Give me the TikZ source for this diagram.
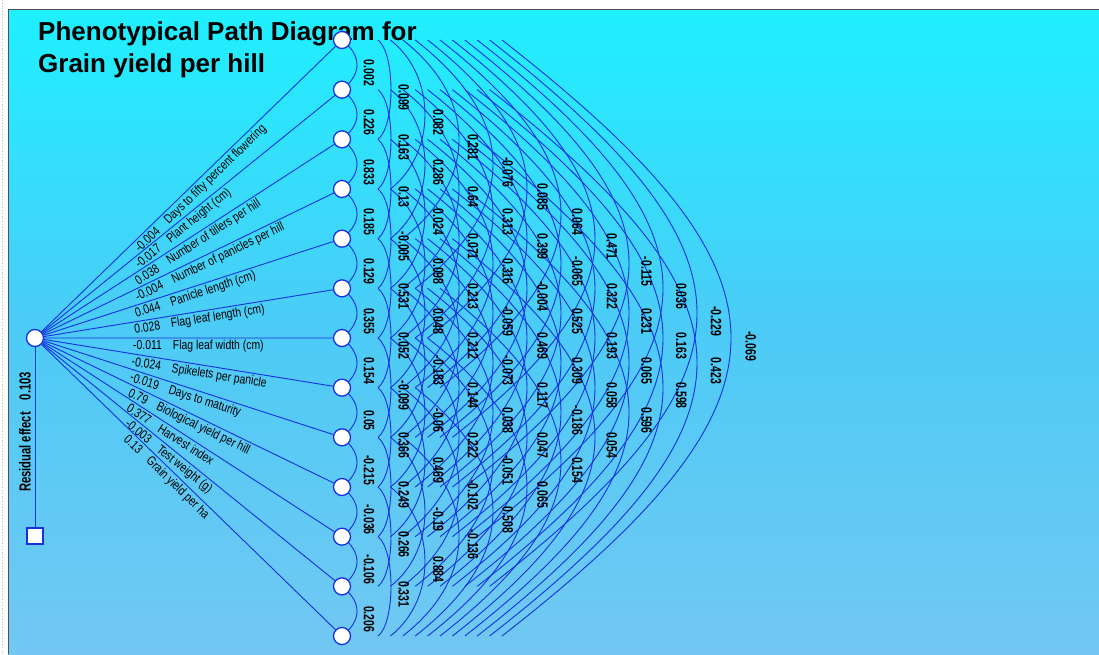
\documentclass[tikz,border=0pt]{standalone}
\usepackage{fontspec}
\setmainfont{Liberation Sans}
\newfontfamily\narrowsans[FakeStretch=0.8]{Liberation Sans}
\newfontfamily\coefsans[FakeStretch=0.7]{Liberation Sans}
\usetikzlibrary{backgrounds,positioning}
\definecolor{skytop}{HTML}{1EF0FF}
\definecolor{skymid}{HTML}{4CCBF6}
\definecolor{skybot}{HTML}{72C8F2}
\definecolor{pathblue}{HTML}{1530E0}
\definecolor{framegray}{HTML}{505050}

\begin{document}
\begin{tikzpicture}[x=1pt,y=1pt,
  trait/.style={circle,draw=pathblue,line width=1.3pt,fill=white,minimum size=17pt,inner sep=0pt},
  resid/.style={rectangle,draw=pathblue,line width=1.3pt,fill=white,minimum size=16pt,inner sep=0pt},
  link/.style={draw=pathblue,line width=0.9pt},
  coef/.style={font=\coefsans\fontsize{15}{17}\selectfont\bfseries,rotate=-90,inner sep=0pt},
  effect/.style={font=\narrowsans\fontsize{13}{15}\selectfont,sloped,anchor=north west,pos=0.3,inner sep=2pt},
  heading/.style={font=\fontsize{26}{31}\selectfont\bfseries,anchor=base west,inner sep=0pt}
]
\useasboundingbox (0,0) rectangle (1099,-654);
\begin{pgfonlayer}{background}
\fill[top color=skytop,bottom color=skybot,middle color=skymid] (8,-9) rectangle (1099,-654);
\draw[framegray,line width=1pt] (8,-654) -- (8,-9) -- (1099,-9);
\draw[gray!50,dotted,line width=0.8pt] (2.5,0) -- (2.5,-654);
\end{pgfonlayer}

\node[heading] (title1) at (38,-40) {Phenotypical Path Diagram for};
\node[heading] (title2) at ([yshift=-32pt]title1.base west) {Grain yield per hill};

\node[trait] (root) at (35,-338) {};
\node[resid] (res) at (35,-536) {};
\foreach \i in {1,...,13}
  \node[trait] (c\i) at (342,{-40-49.667*(\i-1)}) {};

\begin{pgfonlayer}{background}
\draw[link] (root) -- (res);
\foreach \i/\e/\t in {1/-0.004/{Days to fifty percent flowering},2/-0.017/{Plant height (cm)},
    3/0.038/{Number of tillers per hill},4/-0.004/{Number of panicles per hill},
    5/0.044/{Panicle length (cm)},6/0.028/{Flag leaf length (cm)},7/-0.011/{Flag leaf width (cm)},
    8/-0.024/{Spikelets per panicle},9/-0.019/{Days to maturity},10/0.79/{Biological yield per hill},
    11/0.377/{Harvest index},12/-0.003/{Test weight (g)},13/0.13/{Grain yield per ha}}
  \draw[link] (root) -- node[effect] {\e\hspace{11pt}\t} (c\i);
\end{pgfonlayer}
\node[rotate=90,font=\coefsans\fontsize{16}{18}\selectfont\bfseries,inner sep=0pt] (restext) at (25,-432) {Residual effect\hspace{12pt}0.103};

\foreach \k/\vals in {1/{0.002,0.226,0.833,0.185,0.129,0.355,0.154,0.05,-0.215,-0.036,-0.106,0.206},
    2/{0.099,0.163,0.13,-0.005,0.531,0.052,-0.099,0.366,0.249,0.266,0.331},
    3/{0.082,0.286,0.024,0.098,0.048,-0.183,-0.06,0.469,-0.19,0.884},
    4/{0.281,0.64,0.071,0.213,0.212,0.144,0.222,-0.102,-0.136},
    5/{-0.076,0.313,0.316,-0.059,-0.073,0.038,-0.051,0.508},
    6/{0.085,0.399,-0.004,0.469,0.117,0.047,0.065},
    7/{0.064,-0.065,0.525,0.309,-0.186,0.154},
    8/{0.471,0.322,0.193,0.058,0.054},
    9/{-0.115,0.231,0.065,0.596},
    10/{0.036,0.163,0.598},
    11/{-0.229,0.423},
    12/{-0.069}}{
  \pgfmathsetmacro\off{\k==1 ? 0 : 36+12.4*(\k-2)}
  \pgfmathsetmacro\cx{(357+34*(\k-1)-342-\off)/0.75}
  \pgfmathsetmacro\cy{0.78*\cx}
  \pgfmathsetmacro\lx{369+34.7*(\k-1)}
  \foreach \v [count=\i] in \vals {
    \pgfmathtruncatemacro\j{\i+\k}
    \begin{pgfonlayer}{background}
    \draw[link] ([xshift=\off pt]c\i.center) .. controls +(\cx,-\cy) and +(\cx,\cy) .. ([xshift=\off pt]c\j.center);
    \end{pgfonlayer}
    \node[coef] (r\i-\j) at (\lx,{-40-49.667*(\i-1+\k/2)-8}) {\v};
  }
}
\end{tikzpicture}
\end{document}
